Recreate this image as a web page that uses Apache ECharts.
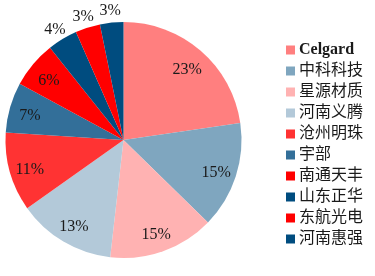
<!DOCTYPE html>
<html><head><meta charset="utf-8">
<script src="https://cdn.jsdelivr.net/npm/echarts@6/dist/echarts.min.js"></script>
<style>html,body{margin:0;padding:0;background:#fff}#c{width:375px;height:276px}</style>
</head><body><div id="c"></div>
<script>
const categories = ['Celgard','中科科技','星源材质','河南义腾','沧州明珠','宇部','南通天丰','山东正华','东航光电','河南惠强'];
const shares = [22.7,14.6,14.5,13.4,10.8,6.9,6.4,4.1,3.4,3.2];
const colors = ['#FF7F7F','#7FA6BF','#FFB2B2','#B3C9D9','#FF3333','#336F99','#FF0000','#004C7F','#FF0000','#004C7F'];
const outsideLabel = [false,false,false,false,false,false,false,true,true,true];

const chart = echarts.init(document.getElementById('c'), null, {renderer:'canvas'});
const labelFont = {fontFamily:'Liberation Serif, Times New Roman, serif', fontSize:16, color:'#1a1a1a', offset:[0,3]};
const fmt = p => Math.round(p.percent) + '%';
const R = 118;
const base = categories.map((n,i)=>({name:n, value:shares[i], itemStyle:{color:colors[i]}}));
chart.setOption({
  animation:false,
  legend:{
    orient:'vertical', left:281, top:37,
    itemWidth:9, itemHeight:9, itemGap:5,
    icon:'rect',
    textStyle:{fontFamily:'Liberation Serif, Noto Sans CJK SC, serif', fontSize:16, color:'#1a1a1a', padding:[0,0,0,-1]},
    data: categories.map((n,i)=>({name:n, textStyle: i===0?{fontWeight:'bold'}:{}}))
  },
  series:[
    {type:'pie', center:[123.5,140], radius:[0,R], startAngle:90, clockwise:true,
     label:{show:false}, labelLine:{show:false}, silent:true,
     itemStyle:{borderWidth:0}, data: base},
    {type:'pie', center:[123.5,140], radius:[R*0.6,R], startAngle:90, clockwise:true,
     silent:true, legendHoverLink:false,
     itemStyle:{color:'rgba(0,0,0,0)'}, labelLine:{show:false},
     label:Object.assign({show:true, position:'inside', formatter:fmt}, labelFont),
     data: categories.map((n,i)=>({name:n+' ', value:shares[i], label:{show:!outsideLabel[i]}}))},
    {type:'pie', center:[123.5,140], radius:[R*1.0,R*1.2], startAngle:90, clockwise:true,
     silent:true, legendHoverLink:false,
     itemStyle:{color:'rgba(0,0,0,0)'}, labelLine:{show:false},
     label:Object.assign({show:true, position:'inside', formatter:fmt}, labelFont),
     data: categories.map((n,i)=>({name:n+'  ', value:shares[i], label:{show:outsideLabel[i]}}))}
  ]
});
</script></body></html>
